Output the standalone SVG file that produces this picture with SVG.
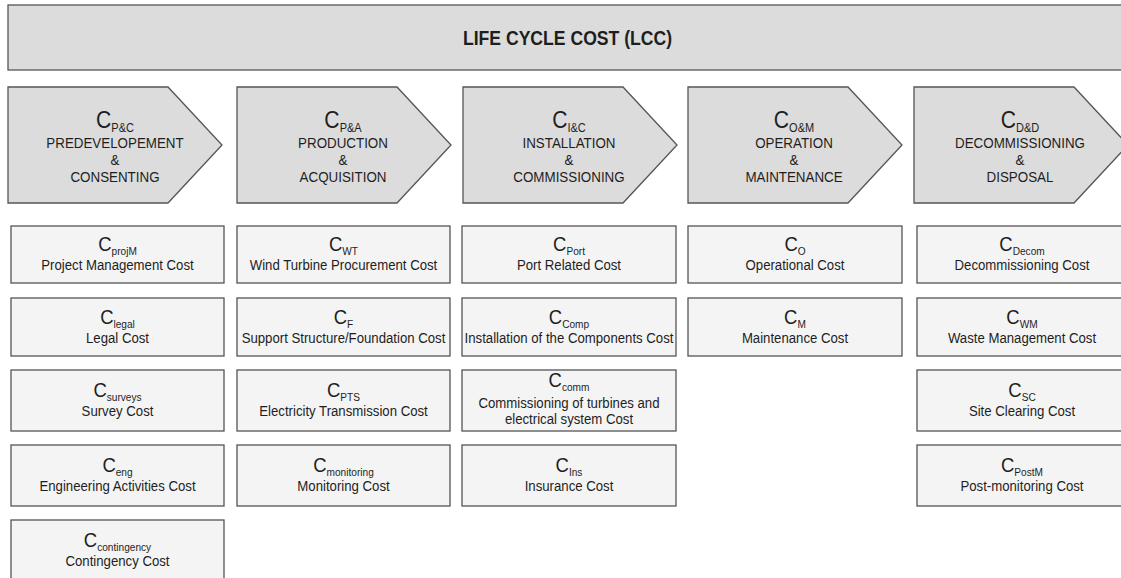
<svg xmlns="http://www.w3.org/2000/svg" width="1121" height="578" viewBox="0 0 1121 578">
  <style>
    .band { fill: #dcdcdc; stroke: #555555; stroke-width: 1.3; }
    .item { fill: #f4f4f4; stroke: #555555; stroke-width: 1.3; }
    text { font-family: "Liberation Sans", Arial, sans-serif; fill: #1e1e1e; text-anchor: middle; }
    .title { font-size: 20px; font-weight: bold; }
    .phase { font-size: 15.2px; }
    .desc { font-size: 15px; }
    .bigc { font-size: 21px; }
    .pbigc { font-size: 24px; }
    .sub { font-size: 11.5px; }
    .psub { font-size: 12.5px; }
  </style>

  <!-- header band -->
  <g id="lcc">
    <rect class="band" x="8" y="5" width="1125" height="65"/>
    <g transform="translate(567.5 0) scale(0.88 1)">
      <text class="title" x="0" y="45">LIFE CYCLE COST (LCC)</text>
    </g>
  </g>

  <!-- phase chevrons -->
  <g id="phase-pc">
    <path class="band" d="M8 87H168L222 145L168 203H8Z"/>
    <g transform="translate(115 0) scale(0.88 1)">
      <text x="0" y="128"><tspan class="pbigc">C</tspan><tspan class="psub" dy="4">P&amp;C</tspan></text>
      <text class="phase" x="0" y="148">PREDEVELOPEMENT</text>
      <text class="phase" x="0" y="165">&amp;</text>
      <text class="phase" x="0" y="182">CONSENTING</text>
    </g>
  </g>
  <g id="phase-pa">
    <path class="band" d="M237 87H397L451 145L397 203H237Z"/>
    <g transform="translate(343 0) scale(0.88 1)">
      <text x="0" y="128"><tspan class="pbigc">C</tspan><tspan class="psub" dy="4">P&amp;A</tspan></text>
      <text class="phase" x="0" y="148">PRODUCTION</text>
      <text class="phase" x="0" y="165">&amp;</text>
      <text class="phase" x="0" y="182">ACQUISITION</text>
    </g>
  </g>
  <g id="phase-ic">
    <path class="band" d="M463 87H623L677 145L623 203H463Z"/>
    <g transform="translate(569 0) scale(0.88 1)">
      <text x="0" y="128"><tspan class="pbigc">C</tspan><tspan class="psub" dy="4">I&amp;C</tspan></text>
      <text class="phase" x="0" y="148">INSTALLATION</text>
      <text class="phase" x="0" y="165">&amp;</text>
      <text class="phase" x="0" y="182">COMMISSIONING</text>
    </g>
  </g>
  <g id="phase-om">
    <path class="band" d="M688 87H848L902 145L848 203H688Z"/>
    <g transform="translate(794 0) scale(0.88 1)">
      <text x="0" y="128"><tspan class="pbigc">C</tspan><tspan class="psub" dy="4">O&amp;M</tspan></text>
      <text class="phase" x="0" y="148">OPERATION</text>
      <text class="phase" x="0" y="165">&amp;</text>
      <text class="phase" x="0" y="182">MAINTENANCE</text>
    </g>
  </g>
  <g id="phase-dd">
    <path class="band" d="M914 87H1074L1128 145L1074 203H914Z"/>
    <g transform="translate(1020 0) scale(0.88 1)">
      <text x="0" y="128"><tspan class="pbigc">C</tspan><tspan class="psub" dy="4">D&amp;D</tspan></text>
      <text class="phase" x="0" y="148">DECOMMISSIONING</text>
      <text class="phase" x="0" y="165">&amp;</text>
      <text class="phase" x="0" y="182">DISPOSAL</text>
    </g>
  </g>

  <!-- cost items, column 1 -->
  <g id="c-projm">
    <rect class="item" x="11" y="226" width="213" height="57"/>
    <g transform="translate(117.5 0) scale(0.88 1)">
      <text x="0" y="251.5"><tspan class="bigc">C</tspan><tspan class="sub" dy="4">projM</tspan></text>
      <text class="desc" x="0" y="270.5">Project Management Cost</text>
    </g>
  </g>
  <g id="c-legal">
    <rect class="item" x="11" y="298" width="213" height="58"/>
    <g transform="translate(117.5 0) scale(0.88 1)">
      <text x="0" y="324"><tspan class="bigc">C</tspan><tspan class="sub" dy="4">legal</tspan></text>
      <text class="desc" x="0" y="343">Legal Cost</text>
    </g>
  </g>
  <g id="c-surveys">
    <rect class="item" x="11" y="370" width="213" height="61"/>
    <g transform="translate(117.5 0) scale(0.88 1)">
      <text x="0" y="397.5"><tspan class="bigc">C</tspan><tspan class="sub" dy="4">surveys</tspan></text>
      <text class="desc" x="0" y="416.5">Survey Cost</text>
    </g>
  </g>
  <g id="c-eng">
    <rect class="item" x="11" y="445" width="213" height="61"/>
    <g transform="translate(117.5 0) scale(0.88 1)">
      <text x="0" y="472.5"><tspan class="bigc">C</tspan><tspan class="sub" dy="4">eng</tspan></text>
      <text class="desc" x="0" y="491.5">Engineering Activities Cost</text>
    </g>
  </g>
  <g id="c-contingency">
    <rect class="item" x="11" y="520" width="213" height="61"/>
    <g transform="translate(117.5 0) scale(0.88 1)">
      <text x="0" y="547.5"><tspan class="bigc">C</tspan><tspan class="sub" dy="4">contingency</tspan></text>
      <text class="desc" x="0" y="566.5">Contingency Cost</text>
    </g>
  </g>

  <!-- column 2 -->
  <g id="c-wt">
    <rect class="item" x="237" y="226" width="213" height="57"/>
    <g transform="translate(343.5 0) scale(0.88 1)">
      <text x="0" y="251.5"><tspan class="bigc">C</tspan><tspan class="sub" dy="4">WT</tspan></text>
      <text class="desc" x="0" y="270.5">Wind Turbine Procurement Cost</text>
    </g>
  </g>
  <g id="c-f">
    <rect class="item" x="237" y="298" width="213" height="58"/>
    <g transform="translate(343.5 0) scale(0.88 1)">
      <text x="0" y="324"><tspan class="bigc">C</tspan><tspan class="sub" dy="4">F</tspan></text>
      <text class="desc" x="0" y="343">Support Structure/Foundation Cost</text>
    </g>
  </g>
  <g id="c-pts">
    <rect class="item" x="237" y="370" width="213" height="61"/>
    <g transform="translate(343.5 0) scale(0.88 1)">
      <text x="0" y="397.5"><tspan class="bigc">C</tspan><tspan class="sub" dy="4">PTS</tspan></text>
      <text class="desc" x="0" y="416.5">Electricity Transmission Cost</text>
    </g>
  </g>
  <g id="c-monitoring">
    <rect class="item" x="237" y="445" width="213" height="61"/>
    <g transform="translate(343.5 0) scale(0.88 1)">
      <text x="0" y="472.5"><tspan class="bigc">C</tspan><tspan class="sub" dy="4">monitoring</tspan></text>
      <text class="desc" x="0" y="491.5">Monitoring Cost</text>
    </g>
  </g>

  <!-- column 3 -->
  <g id="c-port">
    <rect class="item" x="462" y="226" width="214" height="57"/>
    <g transform="translate(569 0) scale(0.88 1)">
      <text x="0" y="251.5"><tspan class="bigc">C</tspan><tspan class="sub" dy="4">Port</tspan></text>
      <text class="desc" x="0" y="270.5">Port Related Cost</text>
    </g>
  </g>
  <g id="c-comp">
    <rect class="item" x="462" y="298" width="214" height="58"/>
    <g transform="translate(569 0) scale(0.88 1)">
      <text x="0" y="324"><tspan class="bigc">C</tspan><tspan class="sub" dy="4">Comp</tspan></text>
      <text class="desc" x="0" y="343">Installation of the Components Cost</text>
    </g>
  </g>
  <g id="c-comm">
    <rect class="item" x="462" y="370" width="214" height="61"/>
    <g transform="translate(569 0) scale(0.88 1)">
      <text x="0" y="387"><tspan class="bigc">C</tspan><tspan class="sub" dy="4">comm</tspan></text>
      <text class="desc" x="0" y="408">Commissioning of turbines and</text>
      <text class="desc" x="0" y="424">electrical system Cost</text>
    </g>
  </g>
  <g id="c-ins">
    <rect class="item" x="462" y="445" width="214" height="61"/>
    <g transform="translate(569 0) scale(0.88 1)">
      <text x="0" y="472.5"><tspan class="bigc">C</tspan><tspan class="sub" dy="4">Ins</tspan></text>
      <text class="desc" x="0" y="491.5">Insurance Cost</text>
    </g>
  </g>

  <!-- column 4 -->
  <g id="c-o">
    <rect class="item" x="688" y="226" width="214" height="57"/>
    <g transform="translate(795 0) scale(0.88 1)">
      <text x="0" y="251.5"><tspan class="bigc">C</tspan><tspan class="sub" dy="4">O</tspan></text>
      <text class="desc" x="0" y="270.5">Operational Cost</text>
    </g>
  </g>
  <g id="c-m">
    <rect class="item" x="688" y="298" width="214" height="58"/>
    <g transform="translate(795 0) scale(0.88 1)">
      <text x="0" y="324"><tspan class="bigc">C</tspan><tspan class="sub" dy="4">M</tspan></text>
      <text class="desc" x="0" y="343">Maintenance Cost</text>
    </g>
  </g>

  <!-- column 5 -->
  <g id="c-decom">
    <rect class="item" x="917" y="226" width="214" height="57"/>
    <g transform="translate(1022 0) scale(0.88 1)">
      <text x="0" y="251.5"><tspan class="bigc">C</tspan><tspan class="sub" dy="4">Decom</tspan></text>
      <text class="desc" x="0" y="270.5">Decommissioning Cost</text>
    </g>
  </g>
  <g id="c-wm">
    <rect class="item" x="917" y="298" width="214" height="58"/>
    <g transform="translate(1022 0) scale(0.88 1)">
      <text x="0" y="324"><tspan class="bigc">C</tspan><tspan class="sub" dy="4">WM</tspan></text>
      <text class="desc" x="0" y="343">Waste Management Cost</text>
    </g>
  </g>
  <g id="c-sc">
    <rect class="item" x="917" y="370" width="214" height="61"/>
    <g transform="translate(1022 0) scale(0.88 1)">
      <text x="0" y="397.5"><tspan class="bigc">C</tspan><tspan class="sub" dy="4">SC</tspan></text>
      <text class="desc" x="0" y="416.5">Site Clearing Cost</text>
    </g>
  </g>
  <g id="c-postm">
    <rect class="item" x="917" y="445" width="214" height="61"/>
    <g transform="translate(1022 0) scale(0.88 1)">
      <text x="0" y="472.5"><tspan class="bigc">C</tspan><tspan class="sub" dy="4">PostM</tspan></text>
      <text class="desc" x="0" y="491.5">Post-monitoring Cost</text>
    </g>
  </g>

  <g id="connectors"></g>
</svg>
